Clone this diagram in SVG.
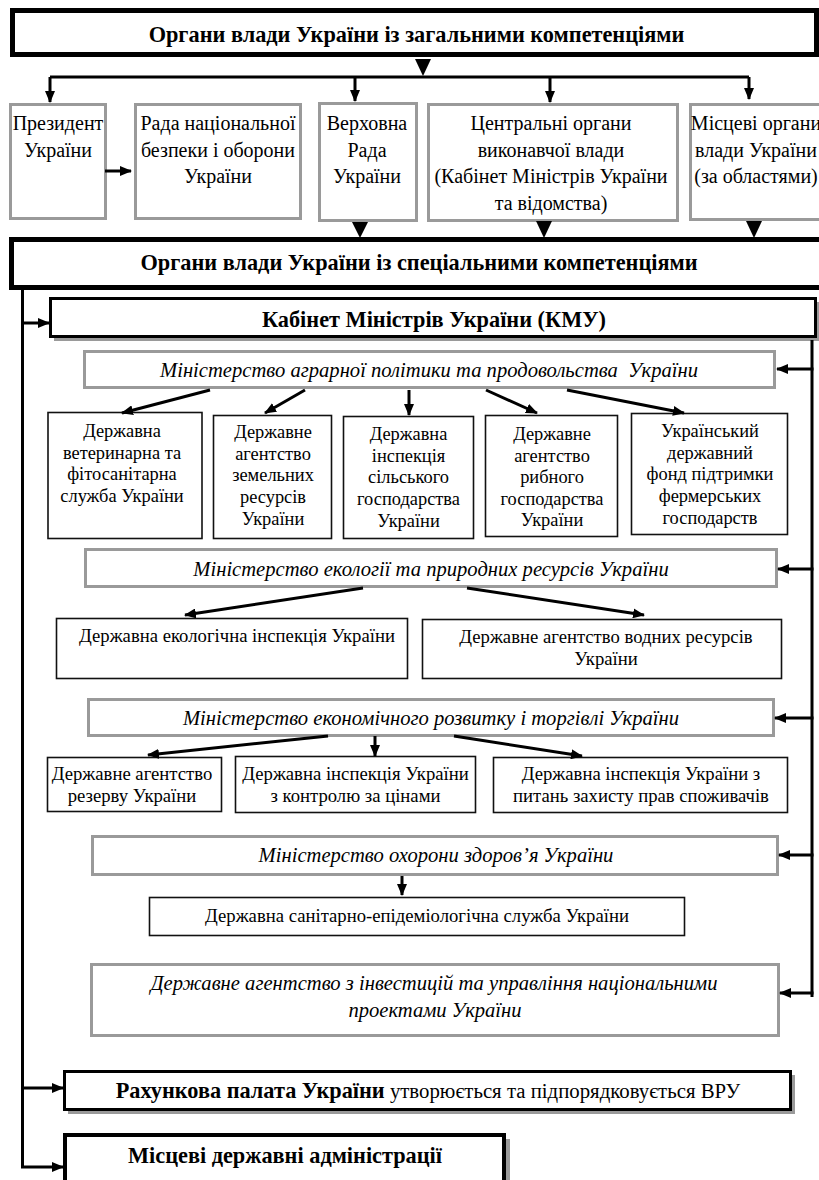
<svg xmlns="http://www.w3.org/2000/svg" width="819" height="1180" viewBox="0 0 819 1180">
<defs>
<marker id="ah" markerUnits="userSpaceOnUse" markerWidth="12" markerHeight="10" refX="11" refY="5" orient="auto">
<path d="M0,0 L12,5 L0,10 z" fill="#000"/>
</marker>
</defs>
<style>
text{font-family:"Liberation Serif","Times New Roman",serif;fill:#000;text-anchor:middle}
.t20{font-size:20px}
.t18{font-size:18.4px}
.t185{font-size:18.7px}
.h{font-size:22.3px;font-weight:bold}
.b{font-weight:bold}
.i{font-style:italic;font-size:20.6px}
.thick{fill:#fff;stroke:#000;stroke-width:5}
.gray{fill:#fff;stroke:#9a9a9a;stroke-width:3}
.thin{fill:#fff;stroke:#111;stroke-width:1.6}
.blk{fill:#fff;stroke:#000;stroke-width:3}
.shadow{fill:#9a9a9a}
.con{fill:none;stroke:#000;stroke-width:3}
.arr{fill:none;stroke:#000;stroke-width:3;marker-end:url(#ah)}
.tri{fill:#000}
</style>
<rect width="819" height="1180" fill="#fff"/>

<g id="general">
<rect class="thick" x="12.5" y="10.5" width="804" height="44"/>
<text class="h" x="416.5" y="42">Органи влади України із загальними компетенціями</text>
</g>

<g id="president">
<rect class="gray" x="10.5" y="104.5" width="95" height="114"/>
<text class="t20" x="58" y="130">Президент</text>
<text class="t20" x="58" y="157">України</text>
</g>

<g id="rnbo">
<rect class="gray" x="135.5" y="104.5" width="165" height="114"/>
<text class="t20" x="218" y="130">Рада національної</text>
<text class="t20" x="218" y="157">безпеки і оборони</text>
<text class="t20" x="218" y="183">України</text>
</g>

<g id="vru">
<rect class="gray" x="319.5" y="103.5" width="97" height="117"/>
<text class="t20" x="367" y="130">Верховна</text>
<text class="t20" x="367" y="157">Рада</text>
<text class="t20" x="367" y="183">України</text>
</g>

<g id="central">
<rect class="gray" x="428.5" y="104.5" width="249" height="116"/>
<text class="t20" x="551" y="130">Центральні органи</text>
<text class="t20" x="551" y="157">виконавчої влади</text>
<text class="t20" x="551" y="183">(Кабінет Міністрів України</text>
<text class="t20" x="551" y="210">та відомства)</text>
</g>

<g id="local">
<rect class="gray" x="690.5" y="104.5" width="140" height="115"/>
<text class="t20" x="756" y="130">Місцеві органи</text>
<text class="t20" x="756" y="157">влади України</text>
<text class="t20" x="756" y="183">(за областями)</text>
</g>

<g id="special">
<rect class="thick" x="11.5" y="239.5" width="820" height="48"/>
<text class="h" x="419" y="270">Органи влади України із спеціальними компетенціями</text>
</g>

<g id="kmu">
<rect class="shadow" x="54" y="302" width="766" height="39"/>
<rect class="blk" x="50.5" y="298.5" width="765" height="38"/>
<text class="h" x="434" y="327">Кабінет Міністрів України (КМУ)</text>
</g>

<g id="min-agro">
<rect class="gray" x="84.5" y="351.5" width="690" height="36"/>
<text class="i" x="429" y="377" xml:space="preserve">Міністерство аграрної політики та продовольства  України</text>
</g>

<g id="vet">
<rect class="thin" x="48" y="412.5" width="154" height="126"/>
<text class="t18" x="122" y="437">Державна</text>
<text class="t18" x="122" y="458.7">ветеринарна та</text>
<text class="t18" x="122" y="480.4">фітосанітарна</text>
<text class="t18" x="122" y="502">служба України</text>
</g>

<g id="land">
<rect class="thin" x="213.5" y="415.5" width="118" height="123"/>
<text class="t18" x="273" y="438">Державне</text>
<text class="t18" x="273" y="459.7">агентство</text>
<text class="t18" x="273" y="481.4">земельних</text>
<text class="t18" x="273" y="503.1">ресурсів</text>
<text class="t18" x="273" y="524.8">України</text>
</g>

<g id="agri-insp">
<rect class="thin" x="343.5" y="416.5" width="130" height="122"/>
<text class="t18" x="408.5" y="440">Державна</text>
<text class="t18" x="408.5" y="461.7">інспекція</text>
<text class="t18" x="408.5" y="483.4">сільського</text>
<text class="t18" x="408.5" y="505.1">господарства</text>
<text class="t18" x="408.5" y="526.8">України</text>
</g>

<g id="fish">
<rect class="thin" x="485.5" y="415.5" width="132" height="121"/>
<text class="t18" x="552" y="440">Державне</text>
<text class="t18" x="552" y="461.7">агентство</text>
<text class="t18" x="552" y="483.4">рибного</text>
<text class="t18" x="552" y="505.1">господарства</text>
<text class="t18" x="552" y="526">України</text>
</g>

<g id="farm">
<rect class="thin" x="631.5" y="413.5" width="156" height="121"/>
<text class="t18" x="710" y="437">Український</text>
<text class="t18" x="710" y="458.7">державний</text>
<text class="t18" x="710" y="480.4">фонд підтримки</text>
<text class="t18" x="710" y="502.1">фермерських</text>
<text class="t18" x="710" y="523.8">господарств</text>
</g>

<g id="min-eco">
<rect class="gray" x="85.5" y="549.5" width="691" height="37"/>
<text class="i" x="431" y="576">Міністерство екології та природних ресурсів України</text>
</g>

<g id="eco-insp">
<rect class="thin" x="56.5" y="618.5" width="351" height="60"/>
<text class="t185" x="237" y="642">Державна екологічна інспекція України</text>
</g>

<g id="water">
<rect class="thin" x="422.5" y="619.5" width="359" height="59"/>
<text class="t185" x="606" y="643">Державне агентство водних ресурсів</text>
<text class="t185" x="606" y="665">України</text>
</g>

<g id="min-econ">
<rect class="gray" x="88.5" y="699.5" width="685" height="36"/>
<text class="i" x="431" y="725">Міністерство економічного розвитку і торгівлі України</text>
</g>

<g id="reserve">
<rect class="thin" x="47.5" y="757.5" width="174" height="54"/>
<text class="t185" x="132" y="780">Державне агентство</text>
<text class="t185" x="132" y="802">резерву України</text>
</g>

<g id="prices">
<rect class="thin" x="235.5" y="756.5" width="240" height="56"/>
<text class="t185" x="355.5" y="780">Державна інспекція України</text>
<text class="t185" x="355.5" y="802">з контролю за цінами</text>
</g>

<g id="consumers">
<rect class="thin" x="493.5" y="757.5" width="294" height="55"/>
<text class="t185" x="641" y="780">Державна інспекція України з</text>
<text class="t185" x="641" y="802">питань захисту прав споживачів</text>
</g>

<g id="min-health">
<rect class="gray" x="92.5" y="836.5" width="685" height="38"/>
<text class="i" x="436" y="862">Міністерство охорони здоров’я України</text>
</g>

<g id="sanitary">
<rect class="thin" x="149.5" y="897.5" width="535" height="38"/>
<text class="t185" x="417" y="922">Державна санітарно-епідеміологічна служба України</text>
</g>

<g id="invest">
<rect class="gray" x="91.5" y="964.5" width="687" height="71"/>
<text class="i" x="434" y="990">Державне агентство з інвестицій та управління національними</text>
<text class="i" x="435" y="1017">проектами України</text>
</g>

<g id="audit">
<rect class="shadow" x="68" y="1075" width="727" height="39"/>
<rect class="blk" x="64.5" y="1071.5" width="726" height="38"/>
<text x="428" y="1098" style="font-size:20.8px"><tspan class="b" style="font-size:22.3px">Рахункова палата України</tspan> утворюється та підпорядковується ВРУ</text>
</g>

<g id="local-admin">
<rect class="shadow" x="69" y="1139" width="441" height="60"/>
<rect class="blk" x="65" y="1135" width="439" height="60" style="stroke-width:4"/>
<text class="h" x="285" y="1163">Місцеві державні адміністрації</text>
</g>

<g id="connectors">
<polygon class="tri" points="415,59 431,59 423,76"/>
<path class="con" d="M50,77 L749,77"/>
<path class="arr" d="M50,77 L50,102"/>
<path class="arr" d="M355,77 L355,101"/>
<path class="arr" d="M550,77 L550,102"/>
<path class="arr" d="M749,77 L749,99"/>
<path class="arr" d="M105,171 L131,171"/>
<polygon class="tri" points="352,222 368,222 360,238"/>
<polygon class="tri" points="536,221 552,221 544,238"/>
<polygon class="tri" points="746,221 762,221 754,238"/>
<path class="con" d="M22.5,290 L22.5,1167"/>
<path class="arr" d="M21,323 L49,323"/>
<path class="arr" d="M21,1088 L63,1088"/>
<path class="arr" d="M21,1167 L63,1167"/>
<path class="con" d="M812,340 L812,997"/>
<path class="arr" d="M813.5,369 L777,369"/>
<path class="arr" d="M813.5,569 L778,569"/>
<path class="arr" d="M813.5,718 L775,718"/>
<path class="arr" d="M813.5,855 L779,855"/>
<path class="arr" d="M813.5,993 L780,993"/>
<path class="arr" d="M210,390 L122,413"/>
<path class="arr" d="M305,390 L265,413"/>
<path class="arr" d="M409,390 L409,415"/>
<path class="arr" d="M486,390 L537,413"/>
<path class="arr" d="M567,390 L684,413"/>
<path class="arr" d="M363,588 L185,615"/>
<path class="arr" d="M467,588 L644,615"/>
<path class="arr" d="M328,736 L148,755"/>
<path class="arr" d="M375,736 L375,756"/>
<path class="arr" d="M454,736 L582,756"/>
<path class="arr" d="M402,876 L402,895"/>
</g>
</svg>
